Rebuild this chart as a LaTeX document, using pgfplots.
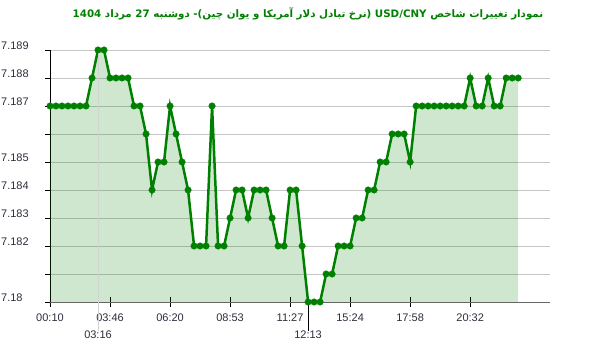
\documentclass[border=0pt]{standalone}
\usepackage{pgfplots}
\pgfplotsset{compat=1.18}
\usepgfplotslibrary{fillbetween}
\usepackage{fontspec}
\setmainfont{Liberation Sans}
\newfontfamily\arabicfont[Script=Arabic]{DejaVu Sans}
\TeXXeTstate=1
\definecolor{lgreen}{RGB}{0,128,0}
\definecolor{tgreen}{RGB}{0,128,0}
\definecolor{lblcol}{RGB}{45,45,60}
\pgfplotstableread{
x y
0 7.187
1 7.187
2 7.187
3 7.187
4 7.187
5 7.187
6 7.187
7 7.188
8 7.189
9 7.189
10 7.188
11 7.188
12 7.188
13 7.188
14 7.187
15 7.187
16 7.186
17 7.184
18 7.185
19 7.185
20 7.187
21 7.186
22 7.185
23 7.184
24 7.182
25 7.182
26 7.182
27 7.187
28 7.182
29 7.182
30 7.183
31 7.184
32 7.184
33 7.183
34 7.184
35 7.184
36 7.184
37 7.183
38 7.182
39 7.182
40 7.184
41 7.184
42 7.182
43 7.180
44 7.180
45 7.180
46 7.181
47 7.181
48 7.182
49 7.182
50 7.182
51 7.183
52 7.183
53 7.184
54 7.184
55 7.185
56 7.185
57 7.186
58 7.186
59 7.186
60 7.185
61 7.187
62 7.187
63 7.187
64 7.187
65 7.187
66 7.187
67 7.187
68 7.187
69 7.187
70 7.188
71 7.187
72 7.187
73 7.188
74 7.187
75 7.187
76 7.188
77 7.188
78 7.188
}\datatable
\begin{document}
\begin{tikzpicture}
\begin{axis}[
  at={(0,0)}, anchor=south west,
  scale only axis, width=500pt, height=252pt,
  xmin=0, xmax=83.3, ymin=7.18, ymax=7.189,
  clip=false,
  axis x line*=bottom, axis y line*=left,
  x axis line style={draw={gray!80!black}, line width=0.8pt},
  y axis line style={draw=black, line width=0.8pt},
  xtick align=center, ytick align=outside,
  xtick={0,10,20,30,40,50,60,70},
  xticklabels={00:10,03:46,06:20,08:53,11:27,15:24,17:58,20:32},
  minor xtick={0,10,20,30,40,50,60,70},
  minor tick length=10pt,
  major tick length=5pt,
  tick style={draw=black, line width=0.8pt},
  ytick={7.180,7.181,7.182,7.183,7.184,7.185,7.186,7.187,7.188,7.189},
  yticklabels={7.18,,7.182,7.183,7.184,7.185,,7.187,7.188,7.189},
  scaled y ticks=false,
  ymajorgrids, grid style={gray!45, line width=0.8pt},
  xticklabel style={anchor=north, inner sep=0pt, yshift=-9pt, font=\fontsize{11}{13}\selectfont, text=lblcol},
  yticklabel style={anchor=west, inner sep=0pt, xshift=-44pt, yshift=4pt, font=\fontsize{11}{13}\selectfont, text=lblcol},
  extra x ticks={8,43},
  extra x tick labels={03:16,12:13},
  extra x tick style={major tick length=0pt, xticklabel style={yshift=-20pt}},
]
\addplot[name path=A, draw=none, forget plot] table[x=x,y=y] {\datatable};
\addplot[name path=B, draw=none, forget plot] coordinates {(0,7.18) (78,7.18)};
\addplot[fill=lgreen, fill opacity=0.19, draw=none] fill between[of=A and B];
\addplot[lgreen, line width=2.5pt, mark=*, mark size=3.3pt, mark options={line width=0.3pt, draw=lgreen, fill=lgreen}] table[x=x,y=y] {\datatable};
\draw[gray!35, line width=0.8pt] (axis cs:8,7.189) -- ([yshift=-29pt]axis cs:8,7.18);
\draw[black, line width=0.8pt] (axis cs:43,7.18) -- ([yshift=-29pt]axis cs:43,7.18);
\end{axis}
\node[text=tgreen, font=\arabicfont\bfseries\fontsize{10.3}{13}\selectfont, inner sep=0pt] at (258pt,288pt)
{\beginR نمودار تغییرات شاخص \beginL USD/CNY\endL{} (نرخ تبادل دلار آمریکا و یوان چین)- دوشنبه  \beginL 27\endL{} مرداد \beginL 1404\endL\endR};
\path (-50pt,-50pt) rectangle (550pt,302pt);
\end{tikzpicture}
\end{document}
